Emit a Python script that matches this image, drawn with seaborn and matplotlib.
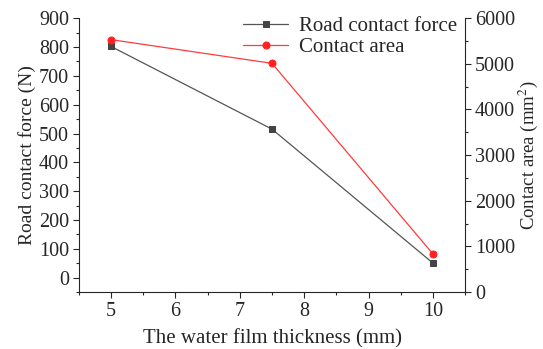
import numpy as np
import pandas as pd
import seaborn as sns
import matplotlib.pyplot as plt
from matplotlib.ticker import AutoMinorLocator

thickness = [5, 7.5, 10]
force = [802, 515, 50]
area = [5530, 5010, 830]

sns.set_style("ticks")
plt.rcParams['font.family'] = ['Liberation Serif', 'DejaVu Serif']
plt.rcParams['mathtext.fontset'] = 'stix'

df = pd.DataFrame({'t': thickness, 'force': force, 'area': area})

fig = plt.figure(figsize=(5.43, 3.49), dpi=100)
ax = fig.add_axes([0.145, 0.163, 0.712, 0.785])
ax2 = ax.twinx()

sns.lineplot(data=df, x='t', y='force', ax=ax, color='#555555', marker='s',
             markersize=5, markeredgecolor='#444444', markerfacecolor='#444444',
             linewidth=0.9, label='Road contact force', legend=False)
sns.lineplot(data=df, x='t', y='area', ax=ax2, color='#ff3b3b', marker='o',
             markersize=5, markeredgecolor='#ff2020', markerfacecolor='#ff2020',
             linewidth=0.9, label='Contact area', legend=False)

ax.set_xlim(4.5, 10.5)
ax.set_ylim(-50, 900)
ax2.set_ylim(0, 6000)
ax.set_xticks([5, 6, 7, 8, 9, 10])
ax.set_yticks(range(0, 901, 100))
ax2.set_yticks(range(0, 6001, 1000))
for a in (ax, ax2):
    a.xaxis.set_minor_locator(AutoMinorLocator(2))
    a.yaxis.set_minor_locator(AutoMinorLocator(2))
    a.tick_params(which='major', length=4, width=0.8, labelsize=14.5, direction='out', pad=3)
    a.tick_params(which='minor', length=2, width=0.8, direction='out')
    a.spines['top'].set_visible(False)
for s in ['left', 'bottom']:
    ax.spines[s].set_linewidth(0.8)
ax2.spines['right'].set_linewidth(0.8)
ax.spines['right'].set_visible(False)
ax2.spines['left'].set_visible(False)
ax2.spines['bottom'].set_visible(False)

ax.set_xlabel('The water film thickness (mm)', fontsize=15, labelpad=6)
ax.set_ylabel('Road contact force (N)', fontsize=14, labelpad=2)
ax2.set_ylabel('Contact area (mm$^2$)', fontsize=13.5, labelpad=1)

h1, l1 = ax.get_legend_handles_labels()
h2, l2 = ax2.get_legend_handles_labels()
ax2.legend(h1 + h2, l1 + l2, loc='upper right', frameon=False, fontsize=15,
           borderaxespad=0.0, handlelength=2.2, handletextpad=0.5, labelspacing=0.05,
           bbox_to_anchor=(1.0, 1.035))

fig.savefig('out.png', dpi=100)
